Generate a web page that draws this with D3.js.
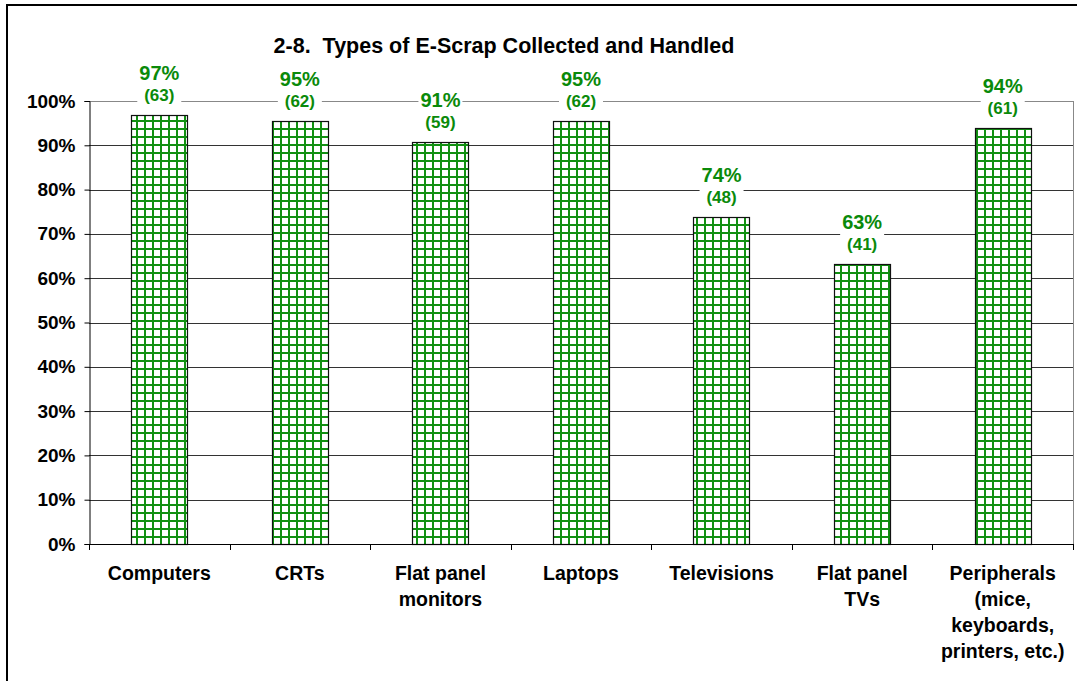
<!DOCTYPE html>
<html><head><meta charset="utf-8">
<script src="https://cdn.jsdelivr.net/npm/d3@7"></script>
<style>body{margin:0;background:#fff}svg{display:block}text{font-family:"Liberation Sans",Arial,sans-serif;font-weight:bold}</style>
</head><body><svg id="c" width="1077" height="681"></svg>
<script>
const categories = [["Computers"],["CRTs"],["Flat panel","monitors"],["Laptops"],["Televisions"],["Flat panel","TVs"],["Peripherals","(mice,","keyboards,","printers, etc.)"]];
const values = [96.9, 95.4, 90.8, 95.4, 73.8, 63.1, 93.8];
const pctLabels = ["97%","95%","91%","95%","74%","63%","94%"];
const countLabels = ["(63)","(62)","(59)","(62)","(48)","(41)","(61)"];
const yTicks = [0,10,20,30,40,50,60,70,80,90,100];
const title = "2-8.  Types of E-Scrap Collected and Handled";

const svg = d3.select("#c");
const L=89, R=1073, T=101, B=544;
const x = d3.scaleBand().domain(d3.range(categories.length)).range([L,R]).paddingInner(0.6).paddingOuter(0.3);
const xb = d3.scaleBand().domain(d3.range(categories.length)).range([L,R]);
const y = d3.scaleLinear().domain([0,100]).range([B,T]);

// outer frame
svg.append("path").attr("d","M7,690 V5 H1090").attr("fill","none").attr("stroke","#000").attr("stroke-width",2);

// pattern
const defs = svg.append("defs");
const pat = defs.append("pattern").attr("id","grid").attr("patternUnits","userSpaceOnUse").attr("width",8).attr("height",8);
pat.append("rect").attr("width",8).attr("height",8).attr("fill","#fff");
pat.append("rect").attr("x",0).attr("y",0).attr("width",2).attr("height",8).attr("fill","#129012");
pat.append("rect").attr("x",0).attr("y",0).attr("width",8).attr("height",2).attr("fill","#129012");

// gridlines
svg.append("g").selectAll("line").data(yTicks.filter(d=>d>0)).join("line")
  .attr("x1",L).attr("x2",R).attr("y1",d=>Math.round(y(d))+0.5).attr("y2",d=>Math.round(y(d))+0.5)
  .attr("stroke",d=>d===100?"#888":"#333").attr("stroke-width",1);
// right border of plot
svg.append("line").attr("x1",R+0.5).attr("x2",R+0.5).attr("y1",T).attr("y2",B).attr("stroke","#888");

// bars
svg.append("g").selectAll("rect").data(values).join("rect")
  .attr("x",(d,i)=>Math.round(x(i))+0.5).attr("y",d=>Math.round(y(d))+0.5)
  .attr("width",Math.round(x.bandwidth())).attr("height",d=>B-Math.round(y(d)))
  .attr("fill","url(#grid)").attr("stroke","#111").attr("stroke-width",1.2);

// axes
const yAxis = svg.append("g").attr("transform",`translate(${L+0.5},0)`)
  .call(d3.axisLeft(y).tickValues(yTicks).tickFormat(d=>d+"%").tickSize(5).tickPadding(9));
yAxis.select(".domain").attr("stroke","#000");
yAxis.selectAll("text").attr("font-size",19).attr("fill","#000").attr("font-family","Liberation Sans, Arial").attr("font-weight","bold");

const xg = svg.append("g");
xg.append("line").attr("x1",L).attr("x2",R).attr("y1",B+0.5).attr("y2",B+0.5).attr("stroke","#000");
xg.selectAll("line.t").data(d3.range(categories.length+1)).join("line").attr("class","t")
  .attr("x1",i=>Math.round(i<categories.length?xb(i):R)+0.5).attr("x2",i=>Math.round(i<categories.length?xb(i):R)+0.5)
  .attr("y1",B).attr("y2",B+6).attr("stroke","#000");
xg.selectAll("text.c").data(categories).join("text").attr("class","c")
  .attr("text-anchor","middle").attr("font-size",19.5).attr("fill","#000")
  .attr("x",(d,i)=>xb(i)+xb.bandwidth()/2).attr("y",B+36)
  .each(function(d){
    const t=d3.select(this);
    d.forEach((s,j)=>t.append("tspan").attr("x",t.attr("x")).attr("dy",j?26:0).text(s));
  });

// data labels
const lab = svg.append("g").selectAll("g").data(values).join("g")
  .attr("transform",(d,i)=>`translate(${x(i)+x.bandwidth()/2},${y(d)})`);
lab.append("rect").attr("x",-22).attr("y",-55).attr("width",44).attr("height",46).attr("fill","#fff");
lab.append("text").attr("text-anchor","middle").attr("y",-35).attr("font-size",20).attr("fill","#0a8a0a").text((d,i)=>pctLabels[i]);
lab.append("text").attr("text-anchor","middle").attr("y",-14).attr("font-size",17).attr("fill","#0a8a0a").text((d,i)=>countLabels[i]);

// title
svg.append("text").attr("x",504).attr("y",53).attr("text-anchor","middle").attr("font-size",21.5).attr("fill","#000")
  .style("white-space","pre").text(title);
</script></body></html>
